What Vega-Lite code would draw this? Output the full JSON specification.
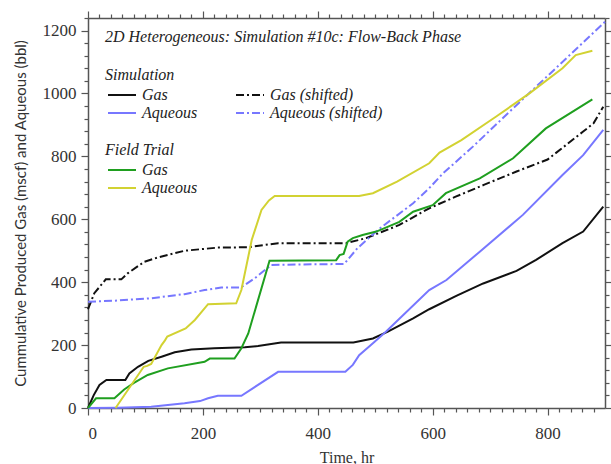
{
  "$schema": "https://vega.github.io/schema/vega-lite/v6.json",
  "width": 517,
  "height": 390,
  "autosize": {"type": "none"},
  "padding": {"left": 88, "top": 18, "right": 6, "bottom": 56},
  "background": "white",
  "title": {
    "text": "2D Heterogeneous: Simulation #10c: Flow-Back Phase",
    "anchor": "start", "frame": "group", "orient": "top", "offset": 0,
    "baseline": "top", "dx": 17, "dy": 36,
    "font": "Liberation Serif", "fontStyle": "italic", "fontWeight": "normal",
    "fontSize": 16, "color": "#222"
  },
  "data": {
    "values": [
      {"g": "sim", "n": "Gas", "t": 0, "v": 0},
      {"g": "sim", "n": "Gas", "t": 10, "v": 41},
      {"g": "sim", "n": "Gas", "t": 20, "v": 73},
      {"g": "sim", "n": "Gas", "t": 32, "v": 89},
      {"g": "sim", "n": "Gas", "t": 65, "v": 89},
      {"g": "sim", "n": "Gas", "t": 72, "v": 110},
      {"g": "sim", "n": "Gas", "t": 87, "v": 131},
      {"g": "sim", "n": "Gas", "t": 105, "v": 150},
      {"g": "sim", "n": "Gas", "t": 128, "v": 163},
      {"g": "sim", "n": "Gas", "t": 151, "v": 177},
      {"g": "sim", "n": "Gas", "t": 180, "v": 186},
      {"g": "sim", "n": "Gas", "t": 220, "v": 190},
      {"g": "sim", "n": "Gas", "t": 273, "v": 193},
      {"g": "sim", "n": "Gas", "t": 296, "v": 197},
      {"g": "sim", "n": "Gas", "t": 336, "v": 208},
      {"g": "sim", "n": "Gas", "t": 462, "v": 208},
      {"g": "sim", "n": "Gas", "t": 496, "v": 221},
      {"g": "sim", "n": "Gas", "t": 522, "v": 243},
      {"g": "sim", "n": "Gas", "t": 566, "v": 285},
      {"g": "sim", "n": "Gas", "t": 594, "v": 314},
      {"g": "sim", "n": "Gas", "t": 642, "v": 357},
      {"g": "sim", "n": "Gas", "t": 688, "v": 396},
      {"g": "sim", "n": "Gas", "t": 746, "v": 436},
      {"g": "sim", "n": "Gas", "t": 780, "v": 471},
      {"g": "sim", "n": "Gas", "t": 826, "v": 524},
      {"g": "sim", "n": "Gas", "t": 862, "v": 561},
      {"g": "sim", "n": "Gas", "t": 897, "v": 640},

      {"g": "sim", "n": "Aqueous", "t": 0, "v": 0},
      {"g": "sim", "n": "Aqueous", "t": 52, "v": 1},
      {"g": "sim", "n": "Aqueous", "t": 110, "v": 4},
      {"g": "sim", "n": "Aqueous", "t": 168, "v": 15},
      {"g": "sim", "n": "Aqueous", "t": 195, "v": 22},
      {"g": "sim", "n": "Aqueous", "t": 209, "v": 31},
      {"g": "sim", "n": "Aqueous", "t": 226, "v": 39},
      {"g": "sim", "n": "Aqueous", "t": 267, "v": 39},
      {"g": "sim", "n": "Aqueous", "t": 331, "v": 115},
      {"g": "sim", "n": "Aqueous", "t": 448, "v": 115},
      {"g": "sim", "n": "Aqueous", "t": 461, "v": 137},
      {"g": "sim", "n": "Aqueous", "t": 472, "v": 168},
      {"g": "sim", "n": "Aqueous", "t": 496, "v": 206},
      {"g": "sim", "n": "Aqueous", "t": 519, "v": 243},
      {"g": "sim", "n": "Aqueous", "t": 594, "v": 375},
      {"g": "sim", "n": "Aqueous", "t": 624, "v": 407},
      {"g": "sim", "n": "Aqueous", "t": 682, "v": 497},
      {"g": "sim", "n": "Aqueous", "t": 757, "v": 614},
      {"g": "sim", "n": "Aqueous", "t": 826, "v": 741},
      {"g": "sim", "n": "Aqueous", "t": 862, "v": 804},
      {"g": "sim", "n": "Aqueous", "t": 897, "v": 884},

      {"g": "shift", "n": "Gas (shifted)", "t": 0, "v": 314},
      {"g": "shift", "n": "Gas (shifted)", "t": 11, "v": 365},
      {"g": "shift", "n": "Gas (shifted)", "t": 31, "v": 409},
      {"g": "shift", "n": "Gas (shifted)", "t": 58, "v": 409},
      {"g": "shift", "n": "Gas (shifted)", "t": 69, "v": 428},
      {"g": "shift", "n": "Gas (shifted)", "t": 98, "v": 465},
      {"g": "shift", "n": "Gas (shifted)", "t": 122, "v": 479},
      {"g": "shift", "n": "Gas (shifted)", "t": 168, "v": 500},
      {"g": "shift", "n": "Gas (shifted)", "t": 226, "v": 510},
      {"g": "shift", "n": "Gas (shifted)", "t": 278, "v": 511},
      {"g": "shift", "n": "Gas (shifted)", "t": 331, "v": 524},
      {"g": "shift", "n": "Gas (shifted)", "t": 449, "v": 524},
      {"g": "shift", "n": "Gas (shifted)", "t": 484, "v": 540},
      {"g": "shift", "n": "Gas (shifted)", "t": 542, "v": 582},
      {"g": "shift", "n": "Gas (shifted)", "t": 594, "v": 635},
      {"g": "shift", "n": "Gas (shifted)", "t": 640, "v": 672},
      {"g": "shift", "n": "Gas (shifted)", "t": 690, "v": 710},
      {"g": "shift", "n": "Gas (shifted)", "t": 746, "v": 752},
      {"g": "shift", "n": "Gas (shifted)", "t": 800, "v": 790},
      {"g": "shift", "n": "Gas (shifted)", "t": 862, "v": 879},
      {"g": "shift", "n": "Gas (shifted)", "t": 880, "v": 905},
      {"g": "shift", "n": "Gas (shifted)", "t": 897, "v": 958},

      {"g": "shift", "n": "Aqueous (shifted)", "t": 0, "v": 338},
      {"g": "shift", "n": "Aqueous (shifted)", "t": 46, "v": 341},
      {"g": "shift", "n": "Aqueous (shifted)", "t": 110, "v": 349},
      {"g": "shift", "n": "Aqueous (shifted)", "t": 168, "v": 362},
      {"g": "shift", "n": "Aqueous (shifted)", "t": 203, "v": 375},
      {"g": "shift", "n": "Aqueous (shifted)", "t": 232, "v": 383},
      {"g": "shift", "n": "Aqueous (shifted)", "t": 266, "v": 383},
      {"g": "shift", "n": "Aqueous (shifted)", "t": 290, "v": 412},
      {"g": "shift", "n": "Aqueous (shifted)", "t": 319, "v": 455},
      {"g": "shift", "n": "Aqueous (shifted)", "t": 446, "v": 458},
      {"g": "shift", "n": "Aqueous (shifted)", "t": 469, "v": 508},
      {"g": "shift", "n": "Aqueous (shifted)", "t": 508, "v": 571},
      {"g": "shift", "n": "Aqueous (shifted)", "t": 566, "v": 651},
      {"g": "shift", "n": "Aqueous (shifted)", "t": 594, "v": 699},
      {"g": "shift", "n": "Aqueous (shifted)", "t": 618, "v": 746},
      {"g": "shift", "n": "Aqueous (shifted)", "t": 670, "v": 831},
      {"g": "shift", "n": "Aqueous (shifted)", "t": 750, "v": 970},
      {"g": "shift", "n": "Aqueous (shifted)", "t": 820, "v": 1090},
      {"g": "shift", "n": "Aqueous (shifted)", "t": 900, "v": 1228},

      {"g": "field", "n": "Gas", "t": 0, "v": 0},
      {"g": "field", "n": "Gas", "t": 14, "v": 31},
      {"g": "field", "n": "Gas", "t": 46, "v": 31},
      {"g": "field", "n": "Gas", "t": 63, "v": 59},
      {"g": "field", "n": "Gas", "t": 80, "v": 80},
      {"g": "field", "n": "Gas", "t": 104, "v": 105},
      {"g": "field", "n": "Gas", "t": 139, "v": 126},
      {"g": "field", "n": "Gas", "t": 203, "v": 147},
      {"g": "field", "n": "Gas", "t": 212, "v": 157},
      {"g": "field", "n": "Gas", "t": 255, "v": 157},
      {"g": "field", "n": "Gas", "t": 267, "v": 190},
      {"g": "field", "n": "Gas", "t": 279, "v": 237},
      {"g": "field", "n": "Gas", "t": 316, "v": 468},
      {"g": "field", "n": "Gas", "t": 432, "v": 470},
      {"g": "field", "n": "Gas", "t": 438, "v": 486},
      {"g": "field", "n": "Gas", "t": 445, "v": 490},
      {"g": "field", "n": "Gas", "t": 452, "v": 529},
      {"g": "field", "n": "Gas", "t": 461, "v": 540},
      {"g": "field", "n": "Gas", "t": 478, "v": 550},
      {"g": "field", "n": "Gas", "t": 502, "v": 561},
      {"g": "field", "n": "Gas", "t": 542, "v": 592},
      {"g": "field", "n": "Gas", "t": 566, "v": 624},
      {"g": "field", "n": "Gas", "t": 600, "v": 645},
      {"g": "field", "n": "Gas", "t": 623, "v": 683},
      {"g": "field", "n": "Gas", "t": 682, "v": 730},
      {"g": "field", "n": "Gas", "t": 740, "v": 794},
      {"g": "field", "n": "Gas", "t": 797, "v": 889},
      {"g": "field", "n": "Gas", "t": 878, "v": 981},

      {"g": "field", "n": "Aqueous", "t": 48, "v": 0},
      {"g": "field", "n": "Aqueous", "t": 97, "v": 131},
      {"g": "field", "n": "Aqueous", "t": 103, "v": 134},
      {"g": "field", "n": "Aqueous", "t": 110, "v": 140},
      {"g": "field", "n": "Aqueous", "t": 128, "v": 200},
      {"g": "field", "n": "Aqueous", "t": 134, "v": 215},
      {"g": "field", "n": "Aqueous", "t": 138, "v": 227},
      {"g": "field", "n": "Aqueous", "t": 170, "v": 253},
      {"g": "field", "n": "Aqueous", "t": 186, "v": 280},
      {"g": "field", "n": "Aqueous", "t": 209, "v": 330},
      {"g": "field", "n": "Aqueous", "t": 258, "v": 333},
      {"g": "field", "n": "Aqueous", "t": 267, "v": 375},
      {"g": "field", "n": "Aqueous", "t": 285, "v": 534},
      {"g": "field", "n": "Aqueous", "t": 302, "v": 630},
      {"g": "field", "n": "Aqueous", "t": 315, "v": 660},
      {"g": "field", "n": "Aqueous", "t": 325, "v": 674},
      {"g": "field", "n": "Aqueous", "t": 472, "v": 674},
      {"g": "field", "n": "Aqueous", "t": 496, "v": 683},
      {"g": "field", "n": "Aqueous", "t": 538, "v": 720},
      {"g": "field", "n": "Aqueous", "t": 594, "v": 778},
      {"g": "field", "n": "Aqueous", "t": 612, "v": 812},
      {"g": "field", "n": "Aqueous", "t": 650, "v": 852},
      {"g": "field", "n": "Aqueous", "t": 710, "v": 926},
      {"g": "field", "n": "Aqueous", "t": 769, "v": 1001},
      {"g": "field", "n": "Aqueous", "t": 826, "v": 1080},
      {"g": "field", "n": "Aqueous", "t": 849, "v": 1122},
      {"g": "field", "n": "Aqueous", "t": 878, "v": 1136}
    ]
  },
  "layer": [
    {
      "transform": [{"filter": "datum.g === 'sim'"}],
      "mark": {"type": "line", "strokeWidth": 2},
      "encoding": {
        "x": {
          "field": "t", "type": "quantitative",
          "scale": {"domain": [0, 900], "nice": false, "zero": false},
          "axis": {
            "orient": "bottom",
            "values": [0, 20, 40, 60, 80, 100, 120, 140, 160, 180, 200, 220, 240, 260, 280, 300, 320, 340, 360, 380, 400, 420, 440, 460, 480, 500, 520, 540, 560, 580, 600, 620, 640, 660, 680, 700, 720, 740, 760, 780, 800, 820, 840, 860, 880],
            "tickSize": {"condition": {"test": "datum.value % 200 === 0", "value": 7}, "value": 4},
            "tickColor": "#555", "tickWidth": 1.2,
            "domainColor": "#555", "domainWidth": 1.5,
            "format": "d", "labelOverlap": false,
            "labelExpr": "datum.value % 200 === 0 ? datum.label : ''",
            "labelFont": "Liberation Serif", "labelFontSize": 17, "labelColor": "#333", "labelPadding": 10,
            "title": "Time, hr", "titleFont": "Liberation Serif", "titleFontSize": 16,
            "titleFontWeight": "normal", "titleColor": "#333", "titlePadding": 8, "grid": false
          }
        },
        "y": {
          "field": "v", "type": "quantitative",
          "scale": {"domain": [0, 1240], "nice": false},
          "axis": {
            "orient": "left",
            "values": [0, 40, 80, 120, 160, 200, 240, 280, 320, 360, 400, 440, 480, 520, 560, 600, 640, 680, 720, 760, 800, 840, 880, 920, 960, 1000, 1040, 1080, 1120, 1160, 1200, 1240],
            "tickSize": {"condition": {"test": "datum.value % 200 === 0", "value": 7}, "value": 4},
            "tickColor": "#555", "tickWidth": 1.2,
            "domainColor": "#555", "domainWidth": 1.5,
            "format": "d", "labelOverlap": false,
            "labelExpr": "datum.value % 200 === 0 ? datum.label : ''",
            "labelFont": "Liberation Serif", "labelFontSize": 17, "labelColor": "#333", "labelPadding": 5,
            "title": "Cummulative Produced Gas (mscf) and Aqueous (bbl)",
            "titleFont": "Lato", "titleFontSize": 15, "titleFontWeight": "normal",
            "titleColor": "#333", "titlePadding": 14, "grid": false
          }
        },
        "color": {
          "field": "n", "type": "nominal",
          "scale": {"domain": ["Gas", "Aqueous"], "range": ["#111111", "#7777ff"]},
          "legend": {
            "title": "Simulation", "orient": "none", "legendX": 17, "legendY": 49,
            "direction": "vertical", "padding": 0,
            "symbolType": "M-2,0H2", "symbolSize": 196, "symbolStrokeWidth": 2,
            "symbolOffset": 9, "labelOffset": 12,
            "labelFont": "Liberation Serif", "labelFontStyle": "italic", "labelFontSize": 16, "labelColor": "#222",
            "titleFont": "Liberation Serif", "titleFontStyle": "italic", "titleFontWeight": "normal",
            "titleFontSize": 16, "titleColor": "#222", "titlePadding": 4, "rowPadding": 2
          }
        }
      }
    },
    {
      "transform": [{"filter": "datum.g === 'shift'"}],
      "mark": {"type": "line", "strokeWidth": 2, "strokeDash": [8, 3, 2, 3]},
      "encoding": {
        "x": {
          "field": "t", "type": "quantitative",
          "axis": {
            "orient": "top",
            "values": [0, 20, 40, 60, 80, 100, 120, 140, 160, 180, 200, 220, 240, 260, 280, 300, 320, 340, 360, 380, 400, 420, 440, 460, 480, 500, 520, 540, 560, 580, 600, 620, 640, 660, 680, 700, 720, 740, 760, 780, 800, 820, 840, 860, 880],
            "tickSize": {"condition": {"test": "datum.value % 200 === 0", "value": 7}, "value": 4},
            "tickColor": "#555", "tickWidth": 1.2,
            "domainColor": "#555", "domainWidth": 1.5, "labels": false, "title": null, "grid": false
          }
        },
        "y": {
          "field": "v", "type": "quantitative",
          "axis": {
            "orient": "right",
            "values": [0, 40, 80, 120, 160, 200, 240, 280, 320, 360, 400, 440, 480, 520, 560, 600, 640, 680, 720, 760, 800, 840, 880, 920, 960, 1000, 1040, 1080, 1120, 1160, 1200, 1240],
            "tickSize": {"condition": {"test": "datum.value % 200 === 0", "value": 7}, "value": 4},
            "tickColor": "#555", "tickWidth": 1.2,
            "domainColor": "#555", "domainWidth": 1.5, "labels": false, "title": null, "grid": false
          }
        },
        "color": {
          "field": "n", "type": "nominal",
          "scale": {"domain": ["Gas (shifted)", "Aqueous (shifted)"], "range": ["#111111", "#7777ff"]},
          "legend": {
            "title": null, "orient": "none", "legendX": 145, "legendY": 69,
            "direction": "vertical", "padding": 0,
            "symbolType": "M-2,0H2", "symbolSize": 196, "symbolStrokeWidth": 2, "symbolDash": [8, 3, 2, 3],
            "symbolOffset": 9, "labelOffset": 12,
            "labelFont": "Liberation Serif", "labelFontStyle": "italic", "labelFontSize": 16, "labelColor": "#222",
            "rowPadding": 2
          }
        }
      }
    },
    {
      "transform": [{"filter": "datum.g === 'field'"}],
      "mark": {"type": "line", "strokeWidth": 2},
      "encoding": {
        "x": {"field": "t", "type": "quantitative", "axis": null},
        "y": {"field": "v", "type": "quantitative", "axis": null},
        "color": {
          "field": "n", "type": "nominal",
          "scale": {"domain": ["Gas", "Aqueous"], "range": ["#1f9f1f", "#d2d232"]},
          "legend": {
            "title": "Field Trial", "orient": "none", "legendX": 17, "legendY": 124,
            "direction": "vertical", "padding": 0,
            "symbolType": "M-2,0H2", "symbolSize": 196, "symbolStrokeWidth": 2,
            "symbolOffset": 9, "labelOffset": 12,
            "labelFont": "Liberation Serif", "labelFontStyle": "italic", "labelFontSize": 16, "labelColor": "#222",
            "titleFont": "Liberation Serif", "titleFontStyle": "italic", "titleFontWeight": "normal",
            "titleFontSize": 16, "titleColor": "#222", "titlePadding": 4, "rowPadding": 2
          }
        }
      }
    }
  ],
  "resolve": {
    "scale": {"color": "independent"},
    "axis": {"x": "independent", "y": "independent"}
  },
  "config": {"view": {"stroke": null}}
}
